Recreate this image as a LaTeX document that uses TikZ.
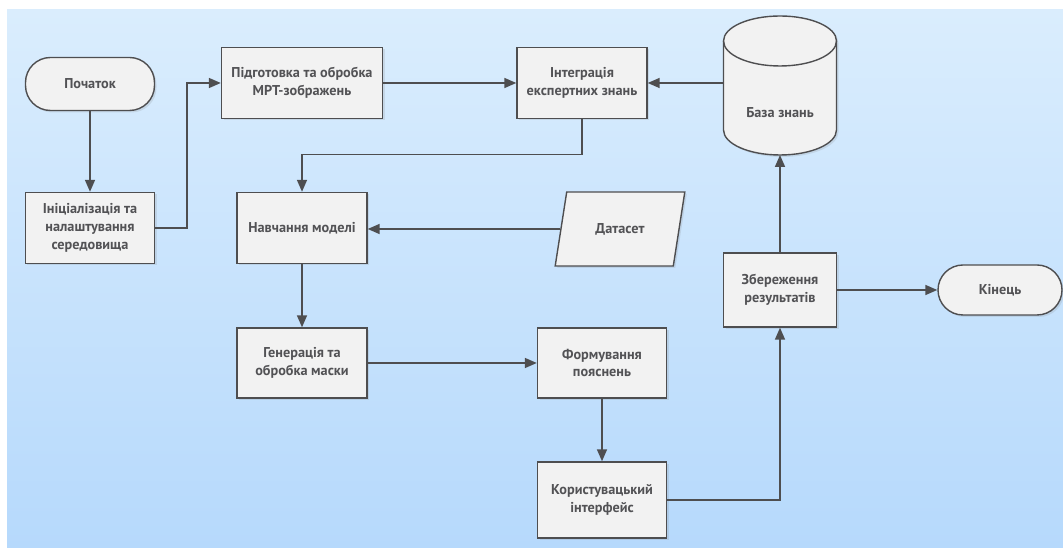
\documentclass[tikz,border=0pt]{standalone}
\usepackage{fontspec}
\setmainfont{PT Sans}
\usetikzlibrary{arrows.meta,shapes.geometric,shadows}
\definecolor{bgtop}{RGB}{218,237,253}
\definecolor{bgbot}{RGB}{182,217,252}
\definecolor{boxfill}{RGB}{242,242,242}
\definecolor{edge}{RGB}{78,78,80}
\definecolor{txt}{RGB}{82,82,85}
\tikzset{
  base/.style={draw=edge, line width=1.4bp, fill=boxfill, align=center,
    font=\fontsize{14.3}{18}\selectfont\bfseries, text=txt, inner sep=2bp,
    drop shadow={opacity=0.18, shadow xshift=2bp, shadow yshift=-2bp}},
  procbox/.style={base, rectangle, minimum width=#1, minimum height=71bp},
  procbox/.default=130bp,
  termbox/.style={base, rectangle, rounded corners=25bp, minimum width=#1, minimum height=53bp},
  databox/.style={base, trapezium, trapezium left angle=70, trapezium right angle=110,
    trapezium stretches=true, minimum width=130bp, minimum height=74bp},
  conn/.style={draw=edge, line width=1.6bp, -{Triangle[length=12bp,width=10bp]}},
  plain/.style={draw=edge, line width=1.6bp}
}
\begin{document}
\begin{tikzpicture}[x=1bp,y=1bp]
\useasboundingbox (0,0) rectangle (1063,548);
\fill[white] (0,0) rectangle (1063,548);
\shade[top color=bgtop, bottom color=bgbot] (7,0) rectangle (1063,538);

% nodes
\node[termbox=129bp] (start) at (90,464) {Початок};
\node[procbox=129bp] (init) at (90,320) {Ініціалізація та\\налаштування\\середовища};
\node[procbox=161bp] (prep) at (302,465) {Підготовка та обробка\\МРТ-зображень};
\node[procbox=130bp] (integ) at (582,465) {Інтеграція\\експертних знань};
\node[procbox=130bp] (train) at (302,320) {Навчання моделі};
\node[databox] (data) at (620,319) {Датасет};
\node[procbox=130bp, minimum height=70bp] (gen) at (302,185) {Генерація та\\обробка маски};
\node[procbox=129bp, minimum height=70bp] (form) at (602,185) {Формування\\пояснень};
\node[procbox=129bp, minimum height=76bp] (ui) at (602,48) {Користувацький\\інтерфейс};
\node[procbox=113bp, minimum height=74bp] (save) at (780,258) {Збереження\\результатів};
\node[termbox=124bp, minimum height=50bp] (end) at (1000,258) {Кінець};

% database cylinder
\filldraw[draw=edge, line width=1.4bp, fill=boxfill,
  drop shadow={opacity=0.18, shadow xshift=2bp, shadow yshift=-2bp}]
  (723.5,507) -- (723.5,418) arc (180:360:56.5 and 25) -- (836.5,507)
  arc (0:180:56.5 and 25) -- cycle;
\draw[draw=edge, line width=1.4bp] (723.5,507) arc (180:360:56.5 and 25);
\node[font=\fontsize{14.3}{18}\selectfont\bfseries, text=txt] (db) at (780,435) {База знань};
\coordinate (dbl) at (723.5,465);
\coordinate (dbb) at (780,393);

% connectors
\draw[conn] (start.south) -- (init.north);
\draw[conn] (init.east) -- ++(32,0) |- (prep.west);
\draw[conn] (prep.east) -- (integ.west);
\draw[conn] (dbl) -- (integ.east);
\draw[conn] (integ.south) -- ++(0,-35.5) -| (train.north);
\draw[conn] (data.west) -- (data.west -| train.east);
\draw[conn] (train.south) -- (gen.north);
\draw[conn] (gen.east) -- (form.west);
\draw[conn] (form.south) -- (ui.north);
\draw[conn] (ui.east) -| (save.south);
\draw[conn] (save.north) -- (dbb);
\draw[conn] (save.east) -- (end.west);
\end{tikzpicture}
\end{document}
